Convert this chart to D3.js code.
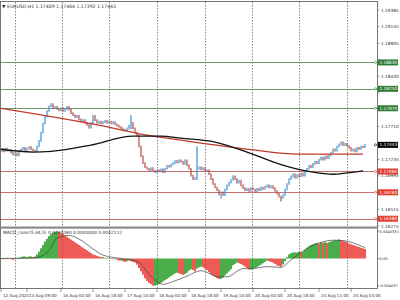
<!DOCTYPE html>
<html>
<head>
<meta charset="utf-8">
<script src="https://cdn.jsdelivr.net/npm/d3@7"></script>
<style>
  body { margin: 0; background: #fff; }
  svg { display: block; }
  text { font-family: "DejaVu Sans", sans-serif; }
</style>
</head>
<body>
<div id="chart"></div>
<script>
// EURUSD H1 closes, one per bar (open = previous close)
var firstOpen = 1.1736;
var closes = [
  1.1738, 1.1735, 1.1739, 1.1736, 1.1737, 1.1733, 1.1730, 1.1732, 1.1729,
  1.1735, 1.1738, 1.1740, 1.1737, 1.1739, 1.1741, 1.1738, 1.1736, 1.1735,
  1.1742, 1.1750, 1.1762, 1.1775, 1.1785, 1.1793, 1.1800, 1.1803,
  1.1797, 1.1799, 1.1796, 1.1794, 1.1797, 1.1793, 1.1796, 1.1799, 1.1795, 1.1790,
  1.1787, 1.1784, 1.1786, 1.1781, 1.1778, 1.1780, 1.1776, 1.1773, 1.1769, 1.1776,
  1.1786, 1.1780, 1.1776, 1.1778, 1.1775, 1.1777, 1.1779, 1.1776, 1.1778, 1.1775, 1.1777, 1.1774, 1.1772,
  1.1770, 1.1768, 1.1766, 1.1765, 1.1768, 1.1772,
  1.1776, 1.1768, 1.1762, 1.1758,
  1.1742, 1.1728, 1.1718, 1.1712,
  1.1710, 1.1708, 1.1711, 1.1707, 1.1705, 1.1708, 1.1706, 1.1709, 1.1705, 1.1710, 1.1714, 1.1713, 1.1716,
  1.1718, 1.1721, 1.1719, 1.1722, 1.1720, 1.1717, 1.1722,
  1.1715, 1.1710, 1.1700, 1.1695, 1.1697, 1.1710,
  1.1712, 1.1709, 1.1711, 1.1707, 1.1708,
  1.1702, 1.1695, 1.1688, 1.1683, 1.1679,
  1.1673, 1.1676, 1.1672,
  1.1680, 1.1686, 1.1690, 1.1694, 1.1699,
  1.1695, 1.1690, 1.1693, 1.1686, 1.1682, 1.1679,
  1.1681, 1.1678, 1.1682, 1.1680, 1.1677, 1.1681, 1.1679, 1.1683, 1.1681,
  1.1684, 1.1686, 1.1683, 1.1685, 1.1682,
  1.1678, 1.1674, 1.1670, 1.1668, 1.1672,
  1.1680, 1.1688, 1.1695, 1.1699,
  1.1702, 1.1697, 1.1701, 1.1699, 1.1703, 1.1700,
  1.1706, 1.1710, 1.1714, 1.1712, 1.1717, 1.1720, 1.1718, 1.1723,
  1.1726, 1.1723, 1.1728, 1.1725, 1.1729,
  1.1733, 1.1738, 1.1736, 1.1742, 1.1745,
  1.1748, 1.1744, 1.1746, 1.1743,
  1.1740, 1.1736, 1.1738, 1.1735,
  1.1740, 1.1738, 1.1742, 1.1741, 1.17443
];
// the few wicks that stick out clearly: [bar, high, low]
var wicks = [[65, 1.1786, 1.1768], [98, 1.1741, 1.1695], [110, 1.1676, 1.1668], [140, 1.1670, 1.1664]];

// moving averages, read at a few bars
var redMA = [[0, 1.1797], [50, 1.1772], [68, 1.1761], [90, 1.1751], [126, 1.1737], [148, 1.1731], [164, 1.1731], [181, 1.1731]];
var blackMA = [[0, 1.1738], [16, 1.1734], [25, 1.1735], [45, 1.1744], [66, 1.1757], [80, 1.1757], [90, 1.1754],
  [106, 1.1749], [123, 1.1734], [140, 1.1716], [156, 1.1705], [166, 1.1702], [173, 1.1704], [181, 1.1707]];

var levelsUp = [1.1863, 1.1825, 1.1797];
var levelsDown = [1.1706, 1.1676, 1.1638];
var lastPrice = 1.17443;
var priceTicks = [1.19385, 1.19145, 1.18905, 1.18665, 1.18430, 1.18190, 1.17950, 1.17710, 1.17470, 1.17235, 1.16995, 1.16755, 1.16515, 1.16275];

// MACD_color histogram, one per bar, and its signal line
var macdHist = [
  0.0000, -0.0001, 0.0000, 0.0001, 0.0000, -0.0001, -0.0002, -0.0001, 0.0000, 0.0001, 0.0002, 0.0003, 0.0003, 0.0002, 0.0003, 0.0003, 0.0002,
  0.0003, 0.0006, 0.0010, 0.0015, 0.0020, 0.0025, 0.0029, 0.0033, 0.0036, 0.0038, 0.0039, 0.0040,
  0.0039, 0.0037, 0.0036, 0.0034, 0.0032, 0.0030, 0.0028, 0.0026, 0.0024, 0.0022, 0.0020, 0.0018, 0.0016, 0.0014, 0.0012, 0.0010, 0.0008, 0.0006, 0.0005, 0.0004, 0.0003, 0.0002,
  0.0002, 0.0001, 0.0001, 0.0000, 0.0000, -0.0001, -0.0001,
  -0.0002, -0.0003, -0.0003, -0.0004, -0.0005, -0.0004, -0.0003, -0.0004, -0.0005, -0.0006,
  -0.0009, -0.0014, -0.0019, -0.0024, -0.0029, -0.0033, -0.0036, -0.0038, -0.0040,
  -0.0040, -0.0039, -0.0038, -0.0036, -0.0034, -0.0032, -0.0030, -0.0028,
  -0.0026, -0.0024, -0.0022, -0.0021, -0.0022, -0.0023, -0.0024,
  -0.0023, -0.0021, -0.0018, -0.0016, -0.0017, -0.0019, -0.0015, -0.0013,
  -0.0012, -0.0013, -0.0015, -0.0017,
  -0.0020, -0.0023, -0.0025, -0.0027, -0.0029, -0.0030, -0.0030,
  -0.0028, -0.0025, -0.0022, -0.0019, -0.0016, -0.0010,
  -0.0008, -0.0006, -0.0007, -0.0008, -0.0010, -0.0012, -0.0014, -0.0016,
  -0.0016, -0.0015, -0.0014, -0.0013, -0.0011, -0.0009, -0.0007, -0.0005,
  -0.0003, -0.0004, -0.0005, -0.0006, -0.0008, -0.0010, -0.0011,
  -0.0012, -0.0009,
  -0.0004, 0.0002, 0.0006, 0.0008, 0.0009, 0.0009,
  0.0009, 0.0010, 0.0009, 0.0010,
  0.0013, 0.0016, 0.0018, 0.0020, 0.0021,
  0.0022, 0.0023, 0.0022, 0.0024, 0.0023, 0.0024, 0.0023, 0.0024,
  0.0025, 0.0026, 0.0027, 0.0027, 0.0028, 0.0027,
  0.0026, 0.0025, 0.0024, 0.0022, 0.0021, 0.0020, 0.0019, 0.0018, 0.0017, 0.0016, 0.0015, 0.0014
];
var macdSignal = [[0, 0.0000], [17, 0.0001], [24, 0.0012], [28, 0.0030], [34, 0.0034], [40, 0.0027], [46, 0.0014],
  [51, 0.0005], [60, 0.0000], [68, -0.0004], [75, -0.0026], [81, -0.0038], [86, -0.0034], [93, -0.0026],
  [100, -0.0018], [109, -0.0027], [113, -0.0027], [121, -0.0015], [125, -0.0015], [133, -0.0012],
  [140, -0.0013], [145, -0.0002], [155, 0.0018], [167, 0.0027], [172, 0.0026], [182, 0.0016]];
var macdTicks = [0.0040331, 0, -0.004037];
var macdTickLabels = ["0.0040331", "0.00", "-0.004037"];

var dateBars = [0, 13, 30, 46, 62, 78, 94, 110, 126, 142, 159, 175];
var dateLabels = ["12 Aug 2021", "13 Aug 09:00", "16 Aug 02:00", "16 Aug 18:00", "17 Aug 10:00", "18 Aug 02:00",
  "18 Aug 18:00", "19 Aug 10:00", "20 Aug 02:00", "20 Aug 18:00", "23 Aug 11:00", "24 Aug 03:00"];
var gridBars = [7, 30.5, 54, 78, 102, 125.5, 149, 173];

var W = 400, H = 300;
var right = 377;
var svg = d3.select('#chart').append('svg').attr('width', W).attr('height', H);

var x = d3.scaleLinear().domain([0, 182]).range([1, 365]);
var y = d3.scaleLinear().domain([1.16275, 1.19385]).range([226, 10]);
var ym = d3.scaleLinear().domain([-0.0042, 0.0042]).range([287, 230]);

var bull = '#3f8fd2', bear = '#b04a45';
var green = '#2f7d32', red = '#e23b2e';
var boxed = levelsUp.concat(levelsDown, [lastPrice]);

// vertical dotted grid
svg.selectAll('.grid')
  .data(gridBars)
  .enter().append('line')
  .attr('x1', function(d) { return x(d) + 0.5; })
  .attr('x2', function(d) { return x(d) + 0.5; })
  .attr('y1', 2).attr('y2', 288)
  .attr('stroke', '#555').attr('stroke-width', 0.7)
  .attr('stroke-dasharray', '1.5,1.5');

// level lines
svg.selectAll('.lvl')
  .data(levelsUp.map(function(v) { return [v, '#5a8f5a']; }).concat(levelsDown.map(function(v) { return [v, '#c06060']; })))
  .enter().append('line')
  .attr('x1', 0).attr('x2', right)
  .attr('y1', function(d) { return Math.round(y(d[0])) + 0.5; })
  .attr('y2', function(d) { return Math.round(y(d[0])) + 0.5; })
  .attr('stroke', function(d) { return d[1]; })
  .attr('stroke-width', 0.9);

// candles
var bars = closes.map(function(c, i) {
  var o = i ? closes[i - 1] : firstOpen;
  var hi = Math.max(o, c), lo = Math.min(o, c);
  wicks.forEach(function(w) { if (w[0] === i) { hi = Math.max(hi, w[1]); lo = Math.min(lo, w[2]); } });
  return { i: i, o: o, c: c, hi: hi, lo: lo };
});
svg.selectAll('.candle')
  .data(bars)
  .enter().append('line')
  .attr('x1', function(d) { return x(d.i); })
  .attr('x2', function(d) { return x(d.i); })
  .attr('y1', function(d) { return y(d.hi) - 0.8; })
  .attr('y2', function(d) { return y(d.lo) + 0.8; })
  .attr('stroke', function(d) { return d.c >= d.o ? bull : bear; })
  .attr('stroke-width', 1.2);

// moving averages
var maLine = d3.line()
  .x(function(d) { return x(d[0]); })
  .y(function(d) { return y(d[1]); })
  .curve(d3.curveMonotoneX);
svg.append('path').attr('d', maLine(redMA)).attr('fill', 'none').attr('stroke', '#c0392b').attr('stroke-width', 1.3);
svg.append('path').attr('d', maLine(blackMA)).attr('fill', 'none').attr('stroke', '#111').attr('stroke-width', 1.3);

// MACD histogram
svg.selectAll('.hist')
  .data(macdHist)
  .enter().append('rect')
  .attr('x', function(d, i) { return x(i) - 0.8; })
  .attr('width', 1.6)
  .attr('y', function(d) { return Math.min(ym(d), ym(0)); })
  .attr('height', function(d) { return Math.max(0.6, Math.abs(ym(d) - ym(0))); })
  .attr('fill', function(d, i) { return (i === 0 || d >= macdHist[i - 1]) ? '#1f9a1f' : '#e8342c'; });

var sigLine = d3.line()
  .x(function(d) { return x(d[0]); })
  .y(function(d) { return ym(d[1]); })
  .curve(d3.curveMonotoneX);
svg.append('path').attr('d', sigLine(macdSignal)).attr('fill', 'none').attr('stroke', '#444').attr('stroke-width', 0.7);

// frames and separator
svg.append('rect').attr('x', 0.5).attr('y', 1.5).attr('width', right).attr('height', 287)
  .attr('fill', 'none').attr('stroke', '#555').attr('stroke-width', 0.8);
svg.append('rect').attr('x', 0).attr('y', 226.5).attr('width', right + 1).attr('height', 2.2).attr('fill', '#8a8a8a');

// price axis (labels hidden behind the price boxes are skipped)
var pAxis = svg.append('g');
priceTicks.forEach(function(p) {
  pAxis.append('line').attr('x1', right).attr('x2', right + 2.5)
    .attr('y1', y(p)).attr('y2', y(p)).attr('stroke', '#555').attr('stroke-width', 0.6);
  var covered = boxed.some(function(b) { return Math.abs(y(b) - y(p)) < 4.5; });
  if (covered) return;
  pAxis.append('text').attr('x', 381).attr('y', y(p) + 1.5)
    .attr('font-size', 4.3).attr('fill', '#333').text(p.toFixed(5));
});

// price boxes
function priceBox(v, bg) {
  var yy = y(v);
  svg.append('circle').attr('cx', right - 1.5).attr('cy', yy).attr('r', 1.1)
    .attr('fill', '#fff').attr('stroke', bg).attr('stroke-width', 0.6);
  svg.append('rect').attr('x', right + 1).attr('y', yy - 3).attr('width', 20).attr('height', 6).attr('fill', bg);
  svg.append('text').attr('x', right + 2.5).attr('y', yy + 1.6).attr('font-size', 4.3)
    .attr('fill', '#fff').text(v.toFixed(5));
}
levelsUp.forEach(function(v) { priceBox(v, green); });
levelsDown.forEach(function(v) { priceBox(v, red); });
priceBox(lastPrice, '#000');

// MACD axis
macdTicks.forEach(function(v, k) {
  svg.append('line').attr('x1', right).attr('x2', right + 2.5)
    .attr('y1', ym(v)).attr('y2', ym(v)).attr('stroke', '#555').attr('stroke-width', 0.6);
  svg.append('text').attr('x', 379.5).attr('y', ym(v) + 1.4)
    .attr('font-size', 3.6).attr('fill', '#333').text(macdTickLabels[k]);
});

// time axis
dateBars.forEach(function(b, k) {
  svg.append('line').attr('x1', x(b)).attr('x2', x(b)).attr('y1', 288).attr('y2', 292)
    .attr('stroke', '#555').attr('stroke-width', 0.6);
  svg.append('text').attr('x', x(b) + 2).attr('y', 296.5)
    .attr('font-size', 4.1).attr('fill', '#333').text(dateLabels[k]);
});

// titles
svg.append('text').attr('x', 2).attr('y', 7.5).attr('font-size', 4.6).attr('fill', '#333')
  .text('\u25BC EURUSD,H1  1.17409 1.17464 1.17392 1.17443');
svg.append('text').attr('x', 3).attr('y', 234).attr('font-size', 4.4).attr('fill', '#333')
  .text('MACD_color(5,34,5) 0.0034080 0.0000000 0.0032112');
</script>
</body>
</html>
